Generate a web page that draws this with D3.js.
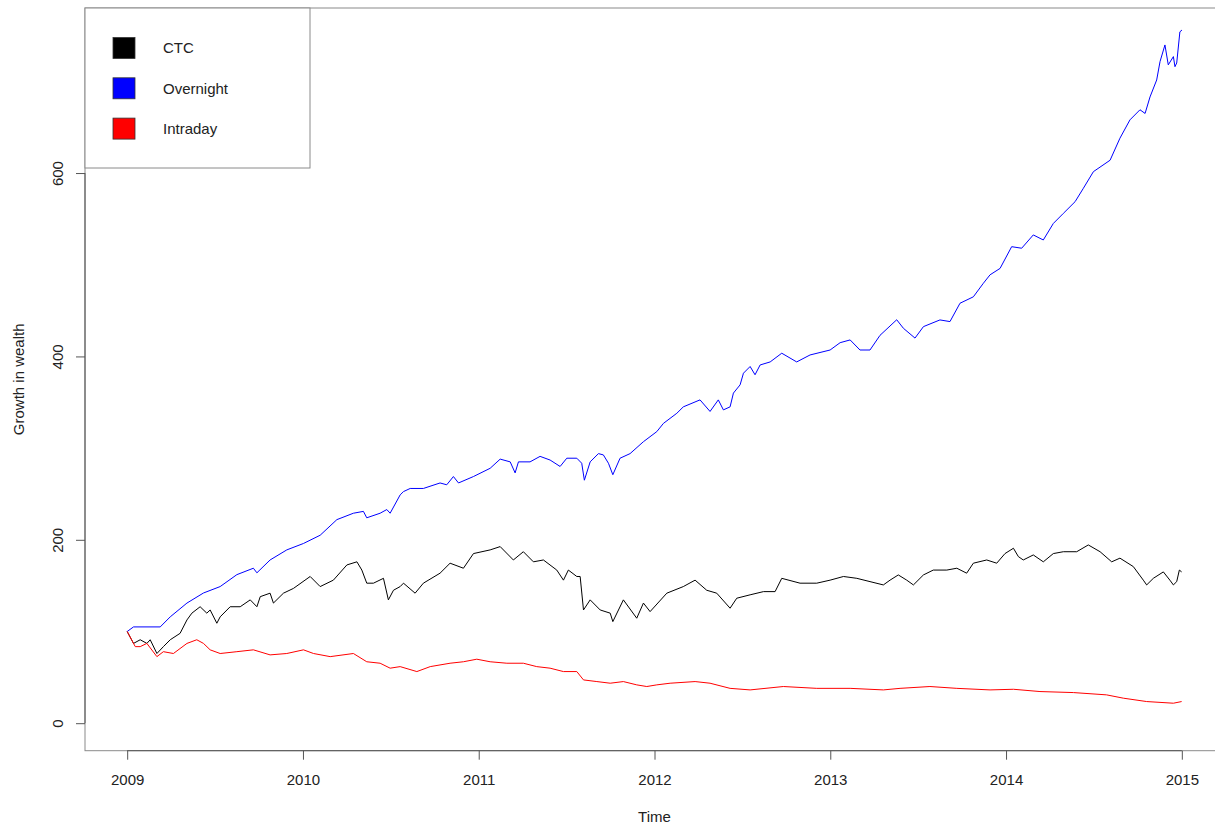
<!DOCTYPE html>
<html>
<head>
<meta charset="utf-8">
<script src="https://cdn.jsdelivr.net/npm/d3@7"></script>
<style>
  body { margin: 0; background: #fff; }
  svg { display: block; font-family: "Liberation Sans", Arial, sans-serif; }
  .line { fill: none; stroke-width: 1; stroke-linejoin: round; }
</style>
</head>
<body>
<div id="chart"></div>
<script>
'use strict';

// Values (decimal years / growth of 100)
var ctcDates = [2009.000, 2009.036, 2009.074, 2009.112, 2009.131, 2009.169, 2009.206, 2009.245,
  2009.301, 2009.340, 2009.368, 2009.415, 2009.453, 2009.472, 2009.510, 2009.529, 2009.586,
  2009.643, 2009.700, 2009.738, 2009.757, 2009.813, 2009.832, 2009.889, 2009.946, 2010.041,
  2010.098, 2010.173, 2010.250, 2010.307, 2010.335, 2010.363, 2010.401, 2010.458, 2010.486,
  2010.515, 2010.553, 2010.572, 2010.638, 2010.685, 2010.780, 2010.837, 2010.913, 2010.970,
  2011.065, 2011.122, 2011.197, 2011.254, 2011.311, 2011.368, 2011.444, 2011.482, 2011.510,
  2011.558, 2011.577, 2011.596, 2011.634, 2011.691, 2011.748, 2011.763, 2011.823, 2011.899,
  2011.937, 2011.975, 2012.070, 2012.164, 2012.231, 2012.297, 2012.354, 2012.430, 2012.468,
  2012.544, 2012.620, 2012.686, 2012.724, 2012.828, 2012.923, 2012.999, 2013.075, 2013.151,
  2013.226, 2013.302, 2013.340, 2013.387, 2013.435, 2013.473, 2013.530, 2013.586, 2013.663,
  2013.720, 2013.776, 2013.814, 2013.890, 2013.947, 2013.994, 2014.042, 2014.070, 2014.098,
  2014.155, 2014.212, 2014.269, 2014.326, 2014.402, 2014.468, 2014.535, 2014.601, 2014.648,
  2014.724, 2014.781, 2014.800, 2014.838, 2014.895, 2014.932, 2014.952, 2014.971, 2014.986,
  2014.999];
var ctcValues = [100, 87, 91, 87, 91, 76, 83.5, 91,
  98, 112.6, 120, 127, 120, 123.5, 109, 116, 127,
  127, 134.5, 127, 138, 141.8, 131, 141.8, 147, 160,
  149, 156, 172.6, 176, 167, 152.7, 152.7, 158, 134.5,
  145, 149, 152.7, 141.8, 152.7, 163.6, 174.5, 169, 185,
  189, 192.6, 178, 187, 176, 178, 167, 156, 167,
  160, 160, 123.5, 134.5, 123.5, 120, 110.8, 134.5, 114.5,
  131, 121.7, 141.8, 149, 156, 145, 141.8, 125.4, 136.3,
  140, 143.5, 143.5, 158, 152.7, 152.7, 156, 160, 158,
  154.4, 150.8, 156, 161.7, 156, 150.8, 161.7, 167, 167,
  169, 163.6, 174.5, 178, 174.5, 185, 190.8, 181.7, 178,
  183.5, 176, 185, 187, 187, 194.4, 187, 176, 180,
  170.8, 156, 150.8, 158, 165, 156, 150.8, 154.4, 167,
  165];

var overnightDates = [2009.000, 2009.036, 2009.188, 2009.245, 2009.340, 2009.434, 2009.529,
  2009.624, 2009.718, 2009.738, 2009.813, 2009.908, 2010.003, 2010.098, 2010.193, 2010.287,
  2010.344, 2010.363, 2010.439, 2010.477, 2010.496, 2010.553, 2010.572, 2010.610, 2010.685,
  2010.780, 2010.818, 2010.856, 2010.885, 2010.970, 2011.065, 2011.122, 2011.179, 2011.207,
  2011.226, 2011.292, 2011.349, 2011.406, 2011.463, 2011.501, 2011.558, 2011.586, 2011.601,
  2011.634, 2011.681, 2011.709, 2011.738, 2011.763, 2011.804, 2011.861, 2011.937, 2012.013,
  2012.051, 2012.127, 2012.164, 2012.259, 2012.316, 2012.363, 2012.392, 2012.430, 2012.449,
  2012.487, 2012.506, 2012.544, 2012.572, 2012.601, 2012.658, 2012.724, 2012.809, 2012.885,
  2012.999, 2013.056, 2013.113, 2013.169, 2013.226, 2013.283, 2013.378, 2013.416, 2013.482,
  2013.530, 2013.624, 2013.681, 2013.738, 2013.814, 2013.871, 2013.909, 2013.966, 2014.032,
  2014.089, 2014.155, 2014.212, 2014.269, 2014.326, 2014.393, 2014.440, 2014.497, 2014.592,
  2014.648, 2014.705, 2014.762, 2014.791, 2014.819, 2014.857, 2014.876, 2014.904, 2014.923,
  2014.952, 2014.961, 2014.971, 2014.989, 2015.001];
var overnightValues = [100, 105, 105, 116, 131, 142, 149,
  162, 169, 164, 178, 189, 196, 205, 222, 229,
  231, 224, 229, 233, 229, 249, 252.6, 256, 256,
  262, 260, 269, 262, 269, 278, 288, 285, 273,
  285, 285, 291, 287, 280, 289, 289, 283.5, 265,
  285, 294, 292.6, 283.5, 271, 289, 294, 307, 318,
  327, 338, 345, 352.6, 340, 352.6, 341.7, 345, 360,
  369, 381.7, 389, 380, 390.7, 394, 403.5, 394, 401.6,
  407, 415, 418, 407, 407, 423, 440, 430.7, 420,
  432.5, 439.8, 438, 458, 465, 479.8, 489, 496, 519.7,
  518, 532.5, 527, 545, 556, 568.8, 583.4, 601.5, 614,
  638, 658, 669, 665, 683, 701.5, 721.5, 739.7, 718,
  727, 716, 720, 754, 756];

var intradayDates = [2009.000, 2009.046, 2009.074, 2009.112, 2009.169, 2009.206, 2009.263,
  2009.340, 2009.396, 2009.434, 2009.472, 2009.529, 2009.624, 2009.718, 2009.813, 2009.908,
  2010.003, 2010.060, 2010.155, 2010.287, 2010.363, 2010.439, 2010.496, 2010.553, 2010.648,
  2010.724, 2010.837, 2010.913, 2010.989, 2011.065, 2011.160, 2011.254, 2011.330, 2011.406,
  2011.482, 2011.558, 2011.596, 2011.672, 2011.748, 2011.823, 2011.899, 2011.956, 2012.013,
  2012.089, 2012.231, 2012.316, 2012.430, 2012.544, 2012.733, 2012.923, 2013.113, 2013.302,
  2013.397, 2013.567, 2013.720, 2013.909, 2014.042, 2014.193, 2014.383, 2014.572, 2014.667,
  2014.800, 2014.952, 2014.999];
var intradayValues = [100, 83.5, 83.5, 87, 72.6, 78, 76,
  87, 91, 87, 80, 76, 78, 80, 74.5, 76,
  80, 76, 72.6, 76, 67, 65.4, 60, 61.7, 56.3,
  61.7, 65.4, 67, 69.8, 67, 65.4, 65.4, 61.7, 60,
  56.3, 56.3, 47.2, 45.4, 43.6, 45.4, 41.8, 40, 41.8,
  43.6, 45.4, 43.6, 38, 36.3, 40, 38, 38, 36.3,
  38, 40, 38, 36.3, 37, 34.5, 33.4, 30.9, 27.3,
  23.6, 21.8, 23.6];

var seriesNames = ['CTC', 'Overnight', 'Intraday'];
var seriesColors = ['#000000', '#0000ff', '#ff0000'];
var xTicks = [2009, 2010, 2011, 2012, 2013, 2014, 2015];
var yTicks = [0, 200, 400, 600];

// Layout
var W = 1215, H = 825;
var plot = {left: 85, right: 1224, top: 8, bottom: 750.7};

var x = d3.scaleLinear().domain([2008.76, 2015.24]).range([plot.left, plot.right]);
var y = d3.scaleLinear().domain([-30, 780]).range([plot.bottom, plot.top]);

var svg = d3.select('#chart').append('svg')
  .attr('width', W)
  .attr('height', H);

var line = d3.line()
  .x(function(d) { return x(d[0]); })
  .y(function(d) { return y(d[1]); });

// Series, drawn in the same order as the legend
var series = [
  {dates: ctcDates, values: ctcValues},
  {dates: overnightDates, values: overnightValues},
  {dates: intradayDates, values: intradayValues}
];
series.forEach(function(s, i) {
  svg.append('path')
    .attr('class', 'line')
    .attr('d', line(s.values.map(function(v, j) { return [s.dates[j], v]; })))
    .style('stroke', seriesColors[i]);
});

// Plot frame
svg.append('rect')
  .attr('x', plot.left).attr('y', plot.top)
  .attr('width', plot.right - plot.left)
  .attr('height', plot.bottom - plot.top)
  .attr('fill', 'none')
  .attr('stroke', '#8a8a8a');

// X axis
var xAxis = d3.axisBottom(x)
  .tickValues(xTicks)
  .tickFormat(d3.format('d'))
  .tickSize(9)
  .tickPadding(15);

var gx = svg.append('g')
  .attr('transform', 'translate(0,' + plot.bottom + ')')
  .call(xAxis);
gx.select('.domain').remove();
gx.append('line')
  .attr('x1', x(xTicks[0])).attr('x2', x(xTicks[xTicks.length - 1]))
  .attr('stroke', '#555');
gx.selectAll('.tick line').attr('stroke', '#555');
gx.selectAll('.tick text')
  .attr('fill', '#222')
  .style('font-size', '15px');

// Y axis, labels rotated like R's las = 0
var yAxis = d3.axisLeft(y)
  .tickValues(yTicks)
  .tickFormat(d3.format('d'))
  .tickSize(9);

var gy = svg.append('g')
  .attr('transform', 'translate(' + plot.left + ',0)')
  .call(yAxis);
gy.select('.domain').remove();
gy.append('line')
  .attr('y1', y(yTicks[0])).attr('y2', y(yTicks[yTicks.length - 1]))
  .attr('stroke', '#555');
gy.selectAll('.tick line').attr('stroke', '#555');
gy.selectAll('.tick text')
  .attr('x', null).attr('dy', null)
  .attr('text-anchor', 'middle')
  .attr('transform', 'translate(-22,0) rotate(-90)')
  .attr('fill', '#222')
  .style('font-size', '15px');

// Axis titles
svg.append('text')
  .attr('x', (plot.left + plot.right) / 2)
  .attr('y', 822)
  .attr('text-anchor', 'middle')
  .attr('fill', '#222')
  .style('font-size', '15px')
  .text('Time');

svg.append('text')
  .attr('transform', 'translate(24,' + ((plot.top + plot.bottom) / 2) + ') rotate(-90)')
  .attr('text-anchor', 'middle')
  .attr('fill', '#222')
  .style('font-size', '15px')
  .text('Growth in wealth');

// Legend
var legend = svg.append('g');
legend.append('rect')
  .attr('x', plot.left).attr('y', plot.top)
  .attr('width', 225).attr('height', 160)
  .attr('fill', '#fff')
  .attr('stroke', '#8a8a8a');

seriesNames.forEach(function(name, i) {
  var cy = 48 + i * 40.3;
  legend.append('rect')
    .attr('x', 113).attr('y', cy - 10.5)
    .attr('width', 22).attr('height', 21)
    .attr('fill', seriesColors[i])
    .attr('stroke', '#333')
    .attr('stroke-width', 0.8);
  legend.append('text')
    .attr('x', 163).attr('y', cy)
    .attr('dy', '0.35em')
    .attr('fill', '#222')
    .style('font-size', '15px')
    .text(name);
});
</script>
</body>
</html>
